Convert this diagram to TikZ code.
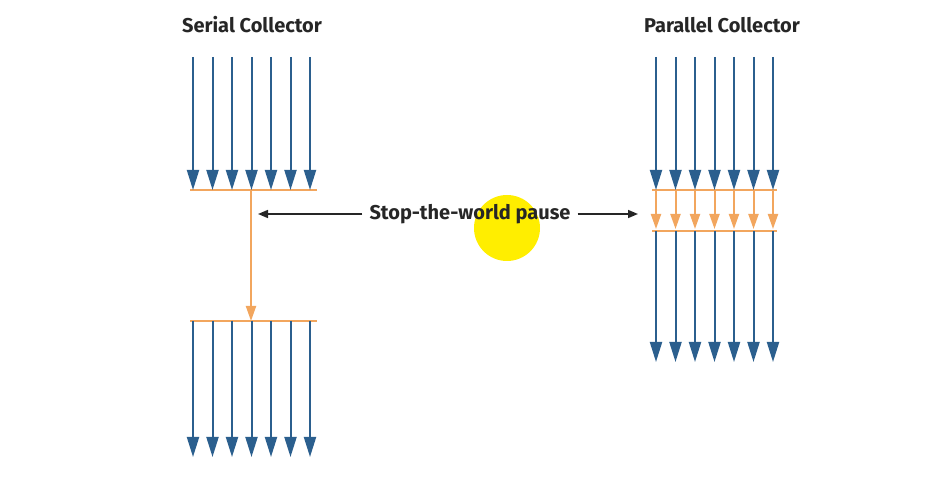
\documentclass[tikz,border=0pt]{standalone}
\usepackage{fontspec}
\setmainfont{Fira Sans}
\usetikzlibrary{arrows.meta}
\definecolor{flowblue}{HTML}{2B5F8E}
\definecolor{gcorange}{HTML}{F2A65E}
\definecolor{cursorglow}{HTML}{FFEE00}

\begin{document}
\begin{tikzpicture}[x=1pt,y=-1pt,
  title/.style={font=\bfseries\fontsize{20}{24}\selectfont, text=black!85},
  thread/.style={draw=flowblue, line width=2pt, -{Triangle[width=12pt,length=20pt,fill=flowblue]}},
  gcthread/.style={draw=gcorange, line width=2pt, -{Triangle[width=10pt,length=15pt,fill=gcorange]}},
  barrier/.style={draw=gcorange, line width=2.4pt},
  pausearrow/.style={draw=black!85, line width=1.6pt, -{Triangle[width=8pt,length=10pt]}}]
\useasboundingbox (0,0) rectangle (938,486);

\node[title] (serial) at (252,25) {Serial Collector};
\node[title] (parallel) at (722,25) {Parallel Collector};

% serial collector
\coordinate (sgc1) at (251,190);
\coordinate (sgc2) at (251,321);
\draw[barrier] (190,190) -- (317,190);
\draw[barrier] (190,321) -- (317,321);
\draw[gcthread] (sgc1) -- (sgc2);
\foreach \i in {0,...,6} {
  \coordinate (s\i) at (193+19.5*\i,57);
  \coordinate (sa\i) at (193+19.5*\i,190);
  \coordinate (sb\i) at (193+19.5*\i,321);
  \coordinate (sc\i) at (193+19.5*\i,457);
  \draw[thread] (s\i) -- (sa\i);
  \draw[thread] (sb\i) -- (sc\i);
}

% parallel collector
\draw[barrier] (652,190) -- (777,190);
\draw[barrier] (652,231) -- (777,231);
\foreach \i in {0,...,6} {
  \coordinate (p\i) at (656+19.5*\i,57);
  \coordinate (pa\i) at (656+19.5*\i,190);
  \coordinate (pb\i) at (656+19.5*\i,229);
  \coordinate (pc\i) at (656+19.5*\i,231);
  \coordinate (pd\i) at (656+19.5*\i,362);
  \draw[thread] (p\i) -- (pa\i);
  \draw[gcthread] (pa\i) -- (pb\i);
  \draw[thread] (pc\i) -- (pd\i);
}

% pause
\fill[cursorglow] (507,228) circle (33);
\node[title, inner sep=7pt] (pause) at (470,214) {Stop-the-world pause};
\coordinate (serialgc) at (258,214);
\coordinate (parallelgc) at (638,214);
\draw[pausearrow] (pause.west) -- (serialgc);
\draw[pausearrow] (pause.east) -- (parallelgc);
\end{tikzpicture}
\end{document}
